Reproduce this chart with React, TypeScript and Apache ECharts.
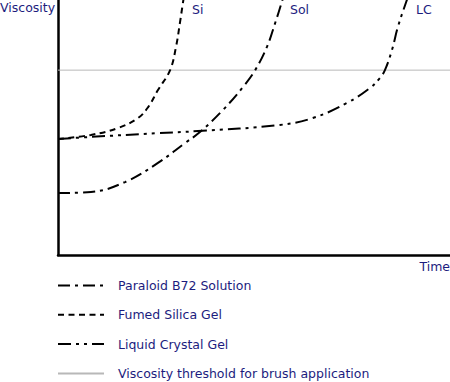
import React, { useEffect, useRef } from "react";
import * as echarts from "echarts";

// Time (0-100, arbitrary) vs Viscosity (0-100, arbitrary)
const paraloidX = [0, 8.4, 17.1, 25.5, 32.4, 36.2, 42.1, 47.2, 50.3, 53.3, 55.4, 57.1, 57.4];
const paraloidY = [24.3, 24.7, 28.6, 36.1, 43.9, 48.2, 56.9, 65.9, 72.5, 81.6, 91, 99.2, 101];
const silicaX = [0, 8.4, 15.3, 20.4, 23, 25.5, 28.6, 30.1, 31.1, 31.9, 32.1];
const silicaY = [45.5, 47.1, 49.8, 53.7, 58, 64.7, 72.5, 81.6, 91, 99.2, 101];
const crystalX = [0, 8.4, 25.5, 35.7, 56.6, 65, 73.7, 79.6, 82.1, 83.4, 85.2, 86.7, 89, 89.3];
const crystalY = [45.5, 46.3, 47.8, 48.6, 51, 53.7, 59.6, 65.5, 69.4, 72.5, 80.4, 89.4, 100, 101];
const thresholdX = [0, 100];
const thresholdY = [72.5, 72.5];

const seriesNames = [
  "Paraloid B72 Solution",
  "Fumed Silica Gel",
  "Liquid Crystal Gel",
  "Viscosity threshold for brush application",
];
const curveLabels = ["Sol", "Si", "LC"];

const zip = (xs: number[], ys: number[]) => xs.map((x, i) => [x, ys[i]]);

const TEXT = "#1c1c7e";
const FONT = "DejaVu Sans";

export default function App() {
  const ref = useRef<HTMLDivElement>(null);
  useEffect(() => {
    const chart = echarts.init(ref.current!, null, { renderer: "svg" });
    const lineBase = { type: "line", symbol: "none", smooth: 0.4, z: 3, clip: true };
    chart.setOption({
      animation: false,
      textStyle: { fontFamily: FONT },
      grid: { left: 58, right: 0, top: 0, bottom: 127, containLabel: false },
      xAxis: {
        type: "value",
        min: 0,
        max: 100,
        axisLine: { show: true, onZero: false, lineStyle: { color: "#000", width: 2.5 } },
        axisTick: { show: false },
        axisLabel: { show: false },
        splitLine: { show: false },
      },
      yAxis: {
        type: "value",
        min: 0,
        max: 100,
        axisLine: { show: true, onZero: false, lineStyle: { color: "#000", width: 2.5 } },
        axisTick: { show: false },
        axisLabel: { show: false },
        splitLine: { show: false },
      },
      legend: {
        orient: "vertical",
        left: 57,
        top: 279,
        height: 200,
        padding: 0,
        itemWidth: 46,
        itemHeight: 12,
        itemGap: 16.3,
        itemStyle: { opacity: 0 },
        textStyle: {
          color: TEXT,
          fontSize: 12.5,
          lineHeight: 12,
          fontFamily: FONT,
          padding: [0, 0, 0, 9],
        },
        data: seriesNames,
      },
      series: [
        {
          ...lineBase,
          name: seriesNames[0],
          data: zip(paraloidX, paraloidY),
          lineStyle: { color: "#000", width: 2, type: [12, 5, 3, 5] },
          itemStyle: { color: "#000" },
        },
        {
          ...lineBase,
          name: seriesNames[1],
          data: zip(silicaX, silicaY),
          lineStyle: { color: "#000", width: 2, type: [6, 4.5] },
          itemStyle: { color: "#000" },
        },
        {
          ...lineBase,
          name: seriesNames[2],
          data: zip(crystalX, crystalY),
          lineStyle: { color: "#000", width: 2, type: [13, 5, 3, 5, 3, 5] },
          itemStyle: { color: "#000" },
        },
        {
          type: "line",
          symbol: "none",
          z: 2,
          name: seriesNames[3],
          data: zip(thresholdX, thresholdY),
          lineStyle: { color: "#b8b8b8", width: 1 },
          itemStyle: { color: "#b8b8b8" },
        },
      ],
      graphic: [
        { type: "text", left: 0, top: 1, style: { text: "Viscosity", fill: TEXT, font: `12.5px ${FONT}` } },
        { type: "text", right: 0, top: 260, style: { text: "Time", fill: TEXT, font: `12.5px ${FONT}` } },
        { type: "text", left: 290, top: 3, style: { text: curveLabels[0], fill: TEXT, font: `12.5px ${FONT}` } },
        { type: "text", left: 192, top: 3, style: { text: curveLabels[1], fill: TEXT, font: `12.5px ${FONT}` } },
        { type: "text", left: 416, top: 3, style: { text: curveLabels[2], fill: TEXT, font: `12.5px ${FONT}` } },
      ],
    });
    return () => chart.dispose();
  }, []);
  return <div ref={ref} style={{ width: 450, height: 382, position: "absolute", left: 0, top: 0 }} />;
}
